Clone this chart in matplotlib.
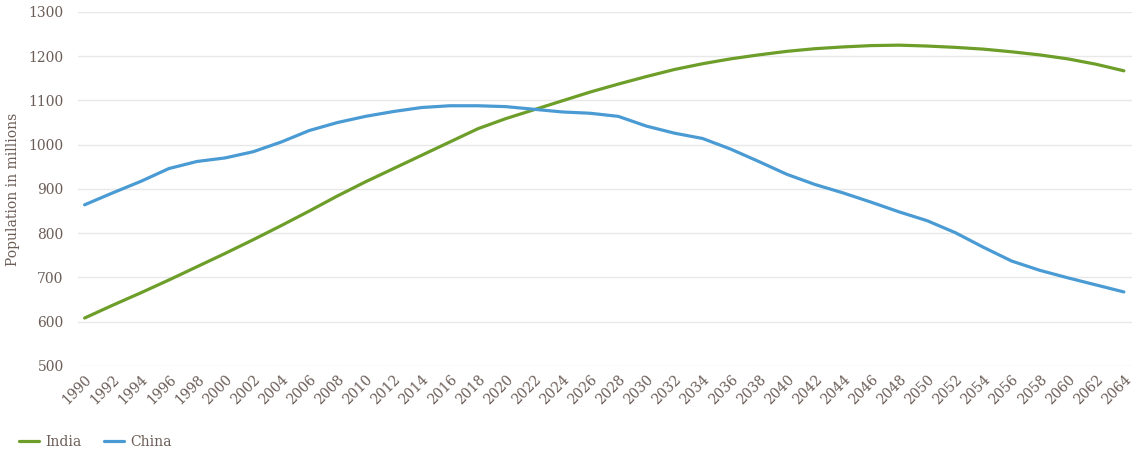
import matplotlib.pyplot as plt

years = list(range(1990, 2065, 2))
india = [608, 637, 665, 694, 724, 754, 785, 817, 850, 884,
         916, 946, 976, 1006, 1036, 1059, 1079, 1099, 1119, 1137,
         1154, 1170, 1183, 1194, 1203, 1211, 1217, 1221, 1224, 1225,
         1223, 1220, 1216, 1210, 1203, 1194, 1182, 1167]
china = [864, 891, 917, 946, 962, 970, 984, 1006, 1032, 1050,
         1064, 1075, 1084, 1088, 1088, 1086, 1080, 1074, 1071, 1064,
         1042, 1026, 1014, 990, 962, 933, 910, 891, 870, 848,
         828, 801, 768, 737, 716, 699, 683, 667]
tick_years = list(range(1990, 2065, 2))

green = '#6e9e2a'
blue = '#4a9bd4'
text_col = '#6b5d57'

plt.rcParams['font.family'] = ['DejaVu Serif']

fig = plt.figure(figsize=(11.41, 4.61), dpi=100)
ax = fig.add_axes([0.068, 0.2065, 0.924, 0.7675])

ax.plot(years, india, color=green, lw=2.3, label='India', solid_capstyle='round')
ax.plot(years, china, color=blue, lw=2.3, label='China', solid_capstyle='round')

ax.set_ylim(500, 1300)
ax.set_xlim(1989.5, 2064.57)
ax.set_yticks(range(500, 1301, 100))
ax.set_xticks(tick_years)
ax.set_xticklabels([str(y) for y in tick_years], rotation=45, ha='right',
                   rotation_mode='anchor')
ax.tick_params(length=0, labelsize=10, labelcolor=text_col)
ax.tick_params(axis='x', pad=5)
ax.tick_params(axis='y', pad=10)
ax.grid(axis='y', color='#e8e8e8', lw=1)
ax.set_axisbelow(True)
for s in ax.spines.values():
    s.set_visible(False)

ax.set_ylabel('Population in millions', fontsize=10, color=text_col, labelpad=6)

fig.legend(loc='lower left', bbox_to_anchor=(0.006, 0.0), ncol=2, frameon=False,
           fontsize=10, labelcolor=text_col, handlelength=1.4, handletextpad=0.5,
           columnspacing=1.6)

fig.savefig('out.png', dpi=100)
